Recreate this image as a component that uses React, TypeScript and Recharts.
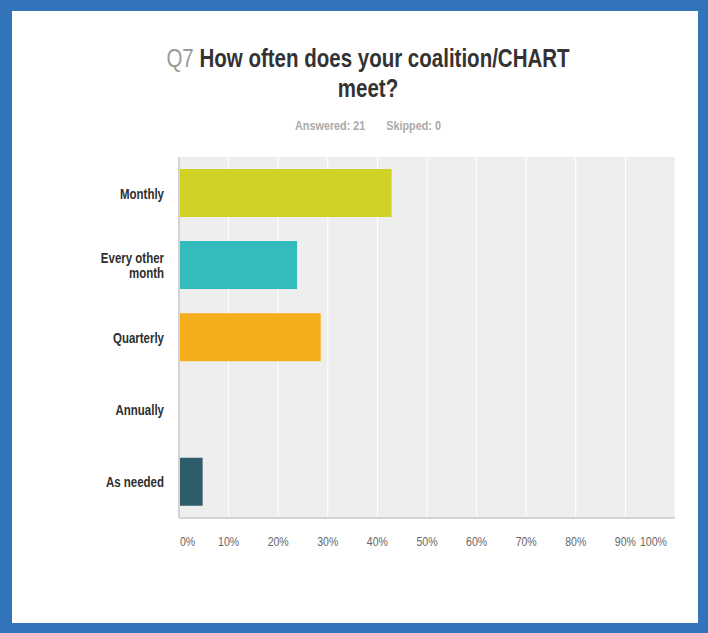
import { Bar, BarChart, CartesianGrid, Cell, XAxis, YAxis } from 'recharts';

const categories = ['Monthly', 'Every other month', 'Quarterly', 'Annually', 'As needed'];
const percentages = [42.86, 23.81, 28.57, 0, 4.76];
const xTicks = [0, 10, 20, 30, 40, 50, 60, 70, 80, 90, 100];
const answered = 21;
const skipped = 0;

const palette = ['#d0d326', '#32bcbd', '#f4ae1b', '#2c8bbf', '#2d5c6b'];

// no Arial Narrow here, so squeeze Liberation Sans horizontally
const FONT = '"Liberation Sans", Arial, sans-serif';
const NARROW = 0.82;

const rows = categories.map((name, i) => ({ name, value: percentages[i] }));

function wrapLabel(label: string, max: number) {
  const words = label.split(' ');
  const lines: string[] = [];
  let cur = '';
  words.forEach(w => {
    const next = cur ? cur + ' ' + w : w;
    if (next.length > max && cur) {
      lines.push(cur);
      cur = w;
    } else {
      cur = next;
    }
  });
  if (cur) lines.push(cur);
  return lines;
}

function CategoryTick({ x, y, payload }: any) {
  const lines = wrapLabel(payload.value, 11);
  const lh = 15;
  const start = -((lines.length - 1) * lh) / 2;
  return (
    <g transform={`translate(${x - 1},${y}) scale(${NARROW},1)`}>
      <text
        x={0}
        y={start}
        textAnchor={'end'}
        dominantBaseline={'central'}
        fontFamily={FONT}
        fontWeight={700}
        fontSize={14}
        fill={'#2e2e2e'}
      >
        {lines.map((l, i) => (
          <tspan key={i} x={0} y={start + i * lh}>
            {l}
          </tspan>
        ))}
      </text>
    </g>
  );
}

function PercentTick({ x, y, payload }: any) {
  let anchor: 'start' | 'middle' | 'end' = 'middle';
  let dx = 0;
  if (payload.value === 0) {
    anchor = 'start';
    dx = 1;
  } else if (payload.value === 100) {
    anchor = 'end';
    dx = -8;
  }
  return (
    <g transform={`translate(${x + dx},${y}) scale(0.88,1)`}>
      <text
        x={0}
        y={0}
        textAnchor={anchor}
        dominantBaseline={'central'}
        fontFamily={FONT}
        fontSize={12}
        fill={'#666'}
      >
        {payload.value + '%'}
      </text>
    </g>
  );
}

export default function App() {
  return (
    <div
      style={{
        position: 'absolute',
        left: 0,
        top: 0,
        width: 708,
        height: 633,
        background: '#3274ba',
        fontFamily: FONT,
      }}
    >
      <div
        style={{
          position: 'absolute',
          left: 12,
          top: 11,
          width: 686,
          height: 612,
          background: '#fff',
        }}
      />
      <div
        style={{
          position: 'absolute',
          left: 68,
          top: 43,
          width: 600,
          textAlign: 'center',
          fontSize: 25,
          lineHeight: '30px',
          fontWeight: 700,
          color: '#333',
          whiteSpace: 'nowrap',
          transform: `scaleX(${NARROW})`,
        }}
      >
        <span style={{ color: '#999', fontWeight: 400 }}>Q7</span> How often does your coalition/CHART
        <br />
        meet?
      </div>
      <div
        style={{
          position: 'absolute',
          left: 168,
          top: 118,
          width: 400,
          textAlign: 'center',
          fontSize: 12,
          lineHeight: '16px',
          fontWeight: 700,
          color: '#aaa',
          whiteSpace: 'pre',
          transform: 'scaleX(0.9)',
        }}
      >
        {`Answered: ${answered}       Skipped: ${skipped}`}
      </div>
      <div style={{ position: 'absolute', left: 0, top: 0 }}>
        <BarChart
          width={708}
          height={633}
          data={rows}
          layout={'vertical'}
          barCategoryGap={'16.5%'}
          margin={{ top: 157, right: 33, bottom: 85, left: 0 }}
        >
          <CartesianGrid
            horizontal={false}
            vertical={true}
            fill={'#eeeeee'}
            fillOpacity={1}
            stroke={'#ffffff'}
            strokeWidth={1}
          />
          <XAxis
            type={'number'}
            domain={[0, 100]}
            ticks={xTicks}
            interval={0}
            height={30}
            axisLine={{ stroke: '#d4d4d4', strokeWidth: 2 }}
            tickLine={false}
            tick={<PercentTick />}
            tickMargin={18}
          />
          <YAxis
            type={'category'}
            dataKey={'name'}
            width={179}
            axisLine={{ stroke: '#d4d4d4', strokeWidth: 2 }}
            tickLine={false}
            tick={<CategoryTick />}
            tickMargin={8}
          />
          <Bar dataKey={'value'} isAnimationActive={false}>
            {rows.map((r, i) => (
              <Cell key={r.name} fill={palette[i]} />
            ))}
          </Bar>
        </BarChart>
      </div>
    </div>
  );
}
